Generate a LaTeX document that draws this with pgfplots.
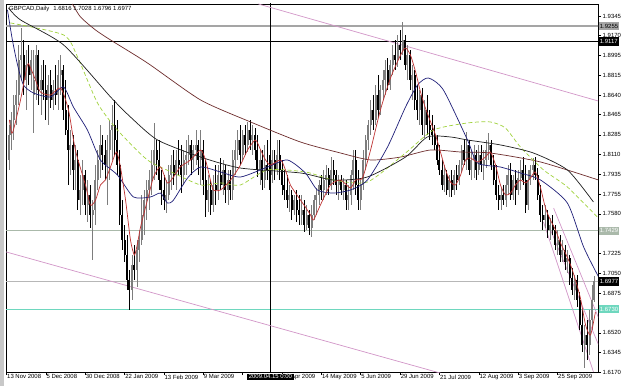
\documentclass[border=0pt]{standalone}
\usepackage{fontspec}
\setmainfont{Liberation Sans}
\usepackage{pgfplots}
\usepackage{pgfplotstable}
\pgfplotsset{compat=1.18}
\definecolor{upc}{RGB}{125,125,125}
\definecolor{dnc}{RGB}{0,0,0}
\definecolor{maR}{RGB}{190,50,50}
\definecolor{maB}{RGB}{30,30,120}
\definecolor{maK}{RGB}{30,30,30}
\definecolor{maG}{RGB}{160,210,60}
\definecolor{maM}{RGB}{110,45,45}
\definecolor{tl}{RGB}{210,150,200}
\definecolor{hg}{RGB}{165,165,165}
\definecolor{hgg}{RGB}{170,185,170}
\definecolor{aq}{RGB}{110,215,190}
\definecolor{win}{RGB}{200,200,200}

\pgfplotstableread{
i o h l c
0 1.8418 1.8596 1.7900 1.8061
1 1.8061 1.8373 1.7972 1.8284
2 1.8284 1.8489 1.8150 1.8418
3 1.8418 1.8641 1.8239 1.8551
4 1.8551 1.8774 1.8373 1.8641
5 1.8641 1.9087 1.8551 1.8953
6 1.8953 1.9238 1.8774 1.8997
7 1.8997 1.9131 1.8641 1.8774
8 1.8774 1.9042 1.8507 1.8908
9 1.8908 1.9087 1.8730 1.8819
10 1.8819 1.9042 1.8685 1.8953
11 1.8641 1.9042 1.8301 1.8774
12 1.8774 1.9087 1.8596 1.8997
13 1.8997 1.9042 1.8551 1.8685
14 1.8685 1.8908 1.8462 1.8774
15 1.8774 1.8953 1.8596 1.8685
16 1.8685 1.8908 1.8418 1.8596
17 1.8596 1.8819 1.8373 1.8730
18 1.8730 1.8864 1.8524 1.8596
19 1.8596 1.8774 1.8507 1.8685
20 1.8685 1.8908 1.8551 1.8641
21 1.8641 1.8953 1.8507 1.8819
22 1.8819 1.8997 1.8641 1.8864
23 1.8864 1.8908 1.8418 1.8507
24 1.8507 1.8774 1.8284 1.8328
25 1.8328 1.8551 1.7838 1.8150
26 1.8150 1.8328 1.7927 1.8195
27 1.8195 1.8284 1.7793 1.7972
28 1.7972 1.8195 1.7793 1.8061
29 1.8061 1.8150 1.7615 1.7704
30 1.7704 1.7927 1.7570 1.7793
31 1.7793 1.8061 1.7659 1.7927
32 1.7927 1.7972 1.7570 1.7659
33 1.7659 1.7882 1.7508 1.7749
34 1.7749 1.7838 1.7454 1.7570
35 1.7570 1.7704 1.7169 1.7615
36 1.7615 1.8016 1.7481 1.7882
37 1.7882 1.8150 1.7793 1.8061
38 1.8061 1.8373 1.7900 1.8195
39 1.8195 1.8284 1.7972 1.8105
40 1.8105 1.8239 1.7882 1.8016
41 1.8016 1.8284 1.7659 1.8150
42 1.8150 1.8418 1.7882 1.8328
43 1.8328 1.8551 1.8061 1.8373
44 1.8373 1.8596 1.8105 1.8239
45 1.8239 1.8418 1.7927 1.8016
46 1.8016 1.8150 1.7481 1.7570
47 1.7570 1.7704 1.7258 1.7347
48 1.7347 1.7481 1.7151 1.7213
49 1.7213 1.7392 1.6901 1.6990
50 1.6990 1.7080 1.6723 1.6901
51 1.6901 1.7213 1.6812 1.7124
52 1.7124 1.7303 1.6990 1.7080
53 1.7080 1.7347 1.6928 1.7258
54 1.7258 1.7436 1.7151 1.7347
55 1.7347 1.7749 1.7303 1.7570
56 1.7570 1.7793 1.7392 1.7704
57 1.7704 1.7882 1.7526 1.7793
58 1.7793 1.7972 1.7615 1.7882
59 1.7882 1.8150 1.7749 1.8016
60 1.8016 1.8391 1.7882 1.8150
61 1.8150 1.8239 1.7927 1.8061
62 1.8061 1.8239 1.7793 1.7882
63 1.7882 1.7972 1.7659 1.7793
64 1.7793 1.7927 1.7615 1.7704
65 1.7704 1.7882 1.7588 1.7749
66 1.7749 1.8016 1.7704 1.7927
67 1.7927 1.8105 1.7793 1.8016
68 1.8016 1.8150 1.7838 1.7927
69 1.7927 1.8150 1.7793 1.8061
70 1.8061 1.8239 1.7927 1.8016
71 1.8016 1.8195 1.7766 1.7927
72 1.7927 1.8150 1.7838 1.8061
73 1.8061 1.8239 1.7927 1.8105
74 1.8105 1.8284 1.8016 1.8195
75 1.8195 1.8239 1.7927 1.8061
76 1.8061 1.8195 1.7972 1.8150
77 1.8150 1.8328 1.8016 1.8195
78 1.8195 1.8239 1.7927 1.8061
79 1.8061 1.8328 1.7838 1.8150
80 1.8150 1.8239 1.7749 1.7882
81 1.7882 1.8061 1.7552 1.7704
82 1.7704 1.7927 1.7597 1.7793
83 1.7793 1.7882 1.7570 1.7659
84 1.7659 1.7927 1.7597 1.7838
85 1.7838 1.8016 1.7659 1.7793
86 1.7793 1.8016 1.7704 1.7927
87 1.7927 1.8078 1.7793 1.7838
88 1.7838 1.8061 1.7749 1.7972
89 1.7972 1.8016 1.7677 1.7793
90 1.7793 1.7972 1.7659 1.7882
91 1.7882 1.7972 1.7704 1.7793
92 1.7793 1.8150 1.7704 1.8061
93 1.8061 1.8239 1.7927 1.8150
94 1.8150 1.8328 1.8061 1.8239
95 1.8239 1.8373 1.8016 1.8105
96 1.8105 1.8328 1.8061 1.8284
97 1.8284 1.8373 1.8105 1.8195
98 1.8195 1.8400 1.8132 1.8328
99 1.8328 1.8418 1.8150 1.8239
100 1.8239 1.8373 1.8105 1.8284
101 1.8284 1.8346 1.8061 1.8150
102 1.8150 1.8284 1.7909 1.7972
103 1.7972 1.8150 1.7838 1.8061
104 1.8061 1.8150 1.7793 1.7882
105 1.7882 1.8195 1.7811 1.8016
106 1.8016 1.8239 1.7882 1.7972
107 1.7972 1.8105 1.7793 1.7927
108 1.7927 1.8150 1.7856 1.8061
109 1.8061 1.8150 1.7882 1.7972
110 1.7972 1.8239 1.7927 1.8105
111 1.8105 1.8239 1.7882 1.7972
112 1.7972 1.8061 1.7749 1.7838
113 1.7838 1.7972 1.7704 1.7793
114 1.7793 1.7927 1.7632 1.7704
115 1.7704 1.7838 1.7597 1.7749
116 1.7749 1.7793 1.7526 1.7615
117 1.7615 1.7749 1.7570 1.7704
118 1.7704 1.7793 1.7508 1.7615
119 1.7615 1.7749 1.7481 1.7570
120 1.7570 1.7749 1.7481 1.7615
121 1.7615 1.7704 1.7418 1.7481
122 1.7481 1.7659 1.7436 1.7570
123 1.7570 1.7615 1.7392 1.7454
124 1.7454 1.7659 1.7374 1.7570
125 1.7570 1.7749 1.7526 1.7704
126 1.7704 1.7811 1.7570 1.7749
127 1.7749 1.7882 1.7659 1.7838
128 1.7838 1.7927 1.7704 1.7793
129 1.7793 1.7972 1.7704 1.7882
130 1.7882 1.8016 1.7749 1.7927
131 1.7927 1.7989 1.7749 1.7838
132 1.7838 1.8087 1.7793 1.7972
133 1.7972 1.8061 1.7838 1.7927
134 1.7927 1.7972 1.7749 1.7838
135 1.7838 1.7927 1.7704 1.7882
136 1.7882 1.7927 1.7749 1.7793
137 1.7793 1.7900 1.7704 1.7838
138 1.7838 1.7882 1.7615 1.7704
139 1.7704 1.7838 1.7615 1.7749
140 1.7749 1.7972 1.7659 1.7927
141 1.7927 1.8150 1.7793 1.8061
142 1.8061 1.8150 1.7749 1.7838
143 1.7838 1.7972 1.7615 1.7704
144 1.7704 1.7882 1.7615 1.7838
145 1.7838 1.8150 1.7793 1.8061
146 1.8061 1.8284 1.7972 1.8239
147 1.8239 1.8418 1.8150 1.8373
148 1.8373 1.8596 1.8284 1.8507
149 1.8507 1.8641 1.8328 1.8418
150 1.8418 1.8730 1.8373 1.8641
151 1.8641 1.8819 1.8444 1.8507
152 1.8507 1.8730 1.8462 1.8685
153 1.8685 1.8864 1.8596 1.8774
154 1.8774 1.8953 1.8641 1.8864
155 1.8864 1.8970 1.8685 1.8730
156 1.8730 1.8953 1.8685 1.8908
157 1.8908 1.9087 1.8819 1.8997
158 1.8997 1.9131 1.8864 1.8953
159 1.8953 1.9176 1.8890 1.9087
160 1.9087 1.9220 1.8953 1.9042
161 1.9042 1.9292 1.8997 1.9131
162 1.9131 1.9176 1.8864 1.8908
163 1.8908 1.9087 1.8774 1.8997
164 1.8997 1.9042 1.8685 1.8774
165 1.8774 1.8908 1.8596 1.8819
166 1.8819 1.8864 1.8507 1.8596
167 1.8596 1.8730 1.8418 1.8507
168 1.8507 1.8685 1.8373 1.8641
169 1.8641 1.8703 1.8284 1.8373
170 1.8373 1.8596 1.8257 1.8507
171 1.8507 1.8641 1.8284 1.8373
172 1.8373 1.8507 1.8239 1.8328
173 1.8328 1.8462 1.8195 1.8284
174 1.8284 1.8373 1.8150 1.8195
175 1.8195 1.8284 1.8016 1.8061
176 1.8061 1.8195 1.7927 1.7972
177 1.7972 1.8061 1.7793 1.7838
178 1.7838 1.8016 1.7775 1.7927
179 1.7927 1.7972 1.7749 1.7793
180 1.7793 1.7927 1.7731 1.7882
181 1.7882 1.7972 1.7731 1.7793
182 1.7793 1.7972 1.7749 1.7927
183 1.7927 1.8016 1.7793 1.7882
184 1.7882 1.8061 1.7838 1.8016
185 1.8016 1.8195 1.7954 1.8150
186 1.8150 1.8239 1.8016 1.8061
187 1.8061 1.8310 1.7972 1.8195
188 1.8195 1.8239 1.7927 1.7972
189 1.7972 1.8150 1.7882 1.8061
190 1.8061 1.8195 1.7900 1.8105
191 1.8105 1.8150 1.7882 1.7972
192 1.7972 1.8195 1.7927 1.8105
193 1.8105 1.8195 1.7954 1.8016
194 1.8016 1.8150 1.7882 1.8061
195 1.8061 1.8239 1.7989 1.8150
196 1.8150 1.8301 1.8061 1.8195
197 1.8195 1.8239 1.7972 1.8016
198 1.8016 1.8105 1.7838 1.7882
199 1.7882 1.8016 1.7704 1.7749
200 1.7749 1.7838 1.7615 1.7704
201 1.7704 1.7811 1.7615 1.7749
202 1.7749 1.7838 1.7659 1.7704
203 1.7704 1.7927 1.7641 1.7838
204 1.7838 1.8016 1.7749 1.7927
205 1.7927 1.8034 1.7704 1.7749
206 1.7749 1.7927 1.7704 1.7882
207 1.7882 1.7972 1.7659 1.7793
208 1.7793 1.7972 1.7749 1.7900
209 1.7900 1.8061 1.7793 1.7972
210 1.7972 1.8087 1.7838 1.7882
211 1.7882 1.8016 1.7588 1.7659
212 1.7659 1.7972 1.7615 1.7882
213 1.7882 1.8016 1.7838 1.7972
214 1.7972 1.8078 1.7882 1.8016
215 1.8016 1.8087 1.7882 1.7927
216 1.7927 1.7989 1.7704 1.7749
217 1.7749 1.7838 1.7508 1.7570
218 1.7570 1.7659 1.7436 1.7526
219 1.7526 1.7659 1.7454 1.7570
220 1.7570 1.7615 1.7365 1.7436
221 1.7436 1.7543 1.7347 1.7481
222 1.7481 1.7570 1.7392 1.7436
223 1.7436 1.7481 1.7258 1.7303
224 1.7303 1.7436 1.7213 1.7347
225 1.7347 1.7392 1.7151 1.7213
226 1.7213 1.7347 1.7151 1.7258
227 1.7258 1.7303 1.7080 1.7151
228 1.7151 1.7258 1.7053 1.7186
229 1.7186 1.7213 1.6946 1.7008
230 1.7008 1.7097 1.6857 1.6901
231 1.6901 1.7035 1.6812 1.6990
232 1.6990 1.7035 1.6749 1.6812
233 1.6812 1.6883 1.6544 1.6589
234 1.6589 1.6723 1.6348 1.6411
235 1.6411 1.6589 1.6205 1.6500
236 1.6500 1.6634 1.6277 1.6411
237 1.6411 1.6723 1.6321 1.6634
238 1.6634 1.6946 1.6544 1.6812
239 1.6816 1.7028 1.6796 1.6977
}\ohlc

\begin{document}
\begin{tikzpicture}[x=1bp,y=1bp]
\path[use as bounding box] (-6,-14) rectangle (619,372);
\fill[white] (-6,-14) rectangle (619,372);
\fill[win] (-6,-14) rectangle (-2.5,372);
\begin{axis}[
  at={(0,0)}, anchor=south west, scale only axis,
  width=592bp, height=368bp,
  xmin=-0.2, xmax=240.45, ymin=1.6170, ymax=1.9452,
  axis line style={black, line width=0.6bp},
  xtick pos=bottom, ytick pos=right, yticklabel pos=right,
  tick align=outside, major tick length=3bp,
  tick style={black, line width=0.5bp},
  xtick={0,16,32,48,64,80,96,112,128,144,160,176,192,208,224},
  xticklabels={13 Nov 2008,5 Dec 2008,30 Dec 2008,22 Jan 2009,13 Feb 2009,9 Mar 2009,{},22 Apr 2009,14 May 2009,5 Jun 2009,29 Jun 2009,21 Jul 2009,12 Aug 2009,3 Sep 2009,25 Sep 2009},
  xticklabel style={anchor=north west, xshift=-0.5bp, yshift=1.5bp, inner sep=1bp, font=\fontsize{6}{7}\selectfont},
  ytick={1.6170,1.6345,1.6520,1.6700,1.6875,1.7050,1.7225,1.7405,1.7580,1.7755,1.7935,1.8110,1.8285,1.8465,1.8640,1.8815,1.8995,1.9170,1.9345},
  yticklabels={1.6170,1.6345,1.6520,{},1.6875,1.7050,1.7225,{},1.7580,1.7755,1.7935,1.8110,1.8285,1.8465,1.8640,1.8815,1.8995,1.9170,1.9345},
  yticklabel style={anchor=west, inner sep=1bp, xshift=0.5bp, font=\fontsize{6}{7}\selectfont},
]
% horizontal / vertical lines
\addplot[hg, line width=2bp, forget plot] coordinates {(-5,1.9255) (245,1.9255)};
\addplot[black, line width=0.8bp, forget plot] coordinates {(-5,1.9117) (245,1.9117)};
\addplot[hgg, line width=1bp, forget plot] coordinates {(-5,1.7429) (245,1.7429)};
\addplot[hg!80, line width=1bp, forget plot] coordinates {(-5,1.6977) (245,1.6977)};
\addplot[aq, line width=1.2bp, forget plot] coordinates {(-5,1.6730) (245,1.6730)};
\addplot[black, line width=0.8bp, forget plot] coordinates {(107.3,1.60) (107.3,1.96)};
% trend lines
\addplot[tl, line width=0.7bp, forget plot] coordinates {(102.4,1.9452) (241,1.8584)};
\addplot[tl, line width=0.7bp, forget plot] coordinates {(-1,1.7246) (180,1.6138)};
\addplot[tl, line width=0.7bp, forget plot] coordinates {(222.4,1.7632) (240.7,1.6651)};
\addplot[tl, line width=0.7bp, forget plot] coordinates {(220.3,1.7481) (240.7,1.6411)};
\addplot[tl, line width=0.7bp, forget plot] coordinates {(218.3,1.7508) (238.6,1.6170)};
% wicks
\addplot[draw=none, mark=none, forget plot, restrict y to domain=1.5:2.5,
  error bars/.cd, y dir=both, y explicit, error mark=none,
  error bar style={draw=upc, line width=0.75bp}]
  table[x=i, y expr={(\thisrow{c}>\thisrow{o})*(\thisrow{h}+\thisrow{l})/2},
        y error expr={(\thisrow{h}-\thisrow{l})/2}] {\ohlc};
\addplot[draw=none, mark=none, forget plot, restrict y to domain=1.5:2.5,
  error bars/.cd, y dir=both, y explicit, error mark=none,
  error bar style={draw=dnc, line width=0.75bp}]
  table[x=i, y expr={(1-(\thisrow{c}>\thisrow{o}))*(\thisrow{h}+\thisrow{l})/2},
        y error expr={(\thisrow{h}-\thisrow{l})/2}] {\ohlc};
% bodies
\addplot[draw=none, mark=none, forget plot, restrict y to domain=1.5:2.5,
  error bars/.cd, y dir=both, y explicit, error mark=none,
  error bar style={draw=upc, line width=2bp}]
  table[x=i, y expr={(\thisrow{c}>\thisrow{o})*(\thisrow{o}+\thisrow{c})/2},
        y error expr={abs(\thisrow{c}-\thisrow{o})/2+0.0002}] {\ohlc};
\addplot[draw=none, mark=none, forget plot, restrict y to domain=1.5:2.5,
  error bars/.cd, y dir=both, y explicit, error mark=none,
  error bar style={draw=dnc, line width=2bp}]
  table[x=i, y expr={(1-(\thisrow{c}>\thisrow{o}))*(\thisrow{o}+\thisrow{c})/2},
        y error expr={abs(\thisrow{c}-\thisrow{o})/2+0.0002}] {\ohlc};
% moving averages
\addplot[maM, line width=0.7bp, smooth, tension=0.4] coordinates {
(26.8,1.9452) (30.1,1.9336) (36.2,1.9220) (42.3,1.9131) (57.3,1.8926) (78.9,1.8596)
(99.2,1.8400) (119.5,1.8221) (135.8,1.8123) (148,1.8061) (160.2,1.8087) (172.4,1.8150)
(184.6,1.8132) (196.7,1.8123) (217.1,1.8043) (240.7,1.7882)};
\addplot[maG, line width=0.7bp, dash pattern=on 4bp off 2.5bp, smooth, tension=0.4] coordinates {
(1.6,1.9283) (23.2,1.9176) (28.9,1.8979) (37,1.8569) (45.1,1.8328) (57.3,1.8061) (67.9,1.7945)
(78.9,1.7838) (87,1.7856) (95.1,1.7838) (106.1,1.7972) (121.5,1.7954) (132.9,1.7882)
(146.7,1.7864) (162.2,1.8123) (173.6,1.8328) (187.4,1.8391) (196.7,1.8400) (202.8,1.8346)
(208.9,1.8177) (218.3,1.7972) (228,1.7820) (240.2,1.7552)};
\addplot[maK, line width=0.7bp, smooth, tension=0.4] coordinates {
(0.8,1.9417) (5.7,1.9310) (23.2,1.9087) (42.3,1.8623) (50.4,1.8444) (61.4,1.8239) (78.9,1.8087)
(95.1,1.7989) (119.5,1.7945) (132.9,1.7882) (146.7,1.7909) (162.2,1.8087) (171.1,1.8266)
(180.5,1.8266) (187.4,1.8239) (200.8,1.8195) (214.2,1.8123) (228,1.7972) (238.6,1.7686)};
\addplot[maB, line width=0.7bp, smooth, tension=0.4] coordinates {
(0.4,1.9399) (2.4,1.9131) (4.5,1.8908) (6.9,1.8730) (11,1.8658) (17.9,1.8623) (23.2,1.8712)
(27.2,1.8533) (32.9,1.8328) (38.2,1.8061) (45.1,1.7927) (51.6,1.7731) (58.5,1.7731)
(62.6,1.7766) (65.4,1.7677) (67.9,1.7704) (73.6,1.7900) (78.9,1.7998) (87,1.7954)
(95.1,1.7909) (106.1,1.7998) (114.2,1.8061) (121.5,1.7945) (126.4,1.7793) (132.9,1.7766)
(139.8,1.7793) (146.7,1.7882) (154.9,1.8177) (162.2,1.8533) (167.1,1.8730) (171.5,1.8792)
(177.6,1.8685) (187.4,1.8239) (191.5,1.8034) (200.8,1.7998) (208.9,1.7945) (217.1,1.7882)
(228,1.7677) (234.6,1.7285) (240.7,1.7017)};
\addplot[maR, line width=0.7bp, smooth, tension=0.4] coordinates {
(1.2,1.8418) (2.4,1.8301) (5.7,1.8596) (8.5,1.8908) (9.8,1.8881) (11.8,1.8774) (13.8,1.8667)
(17.9,1.8641) (22,1.8703) (25.2,1.8507) (28,1.8150) (32.1,1.7838) (34.1,1.7659) (36.2,1.7704)
(38.2,1.7838) (40.2,1.7882) (42.3,1.8000) (44.7,1.8132) (46.3,1.8000) (48.4,1.7704)
(50.4,1.7347) (52,1.7213) (53.3,1.7321) (54.5,1.7463) (57.3,1.7704) (59.8,1.7909)
(62.6,1.8000) (65.4,1.7856) (67.9,1.7909) (70.7,1.8000) (74.8,1.8061) (78.9,1.8150)
(80.9,1.8061) (82.9,1.7882) (84.1,1.7793) (87,1.7793) (91.1,1.7882) (95.1,1.8016)
(98,1.8150) (101.2,1.8239) (103.3,1.8150) (105.3,1.8061) (107.3,1.8016) (111.4,1.8061)
(113.4,1.7972) (115.4,1.7838) (119.5,1.7704) (121.5,1.7641) (123.6,1.7570) (124.8,1.7526)
(127.6,1.7659) (131.7,1.7838) (135.8,1.7882) (139.8,1.7811) (141.9,1.7882) (144.7,1.7900)
(148,1.8150) (152,1.8507) (156.1,1.8792) (160.2,1.8997) (162.2,1.9060) (164.2,1.8997)
(166.3,1.8846) (168.3,1.8667) (170.3,1.8524) (172.4,1.8400) (174.4,1.8284) (176.4,1.8132)
(178.5,1.7972) (180.5,1.7864) (182.5,1.7838) (184.6,1.7927) (186.6,1.8061) (188.6,1.8078)
(191.5,1.8043) (194.7,1.8087) (196.7,1.8132) (198.8,1.8016) (200.8,1.7838) (202.8,1.7749)
(204.9,1.7766) (206.9,1.7838) (208.9,1.7882) (211,1.7856) (213,1.7900) (215,1.7954)
(217.1,1.7811) (219.1,1.7632) (221.1,1.7526) (223.2,1.7436) (225.2,1.7321) (227.2,1.7231)
(229.3,1.7124) (231.3,1.6990) (233.3,1.6830) (235.4,1.6589) (237.4,1.6500) (239.4,1.6705)};
% anchors for labels
\coordinate (rA) at (axis cs:240.45,1.9255);
\coordinate (rB) at (axis cs:240.45,1.9117);
\coordinate (rC) at (axis cs:240.45,1.7429);
\coordinate (rD) at (axis cs:240.45,1.6977);
\coordinate (rE) at (axis cs:240.45,1.6730);
\coordinate (cx) at (axis cs:107.3,1.6170);
\end{axis}
\tikzset{lab/.style={anchor=west, inner xsep=1.2bp, inner ysep=0.6bp, minimum height=8.5bp, font=\fontsize{6}{7}\selectfont}}
\node[lab, fill=hg, text=black] at ([xshift=0.5bp]rA) {1.9255};
\node[lab, fill=black, text=white] at ([xshift=0.5bp]rB) {1.9117};
\node[lab, fill=hgg, text=white] at ([xshift=0.5bp]rC) {1.7429};
\node[lab, fill=black, text=white] at ([xshift=0.5bp]rD) {1.6977};
\node[lab, fill=aq, text=white] at ([xshift=0.5bp]rE) {1.6730};
\node[anchor=north, fill=black, text=white, inner xsep=1.5bp, inner ysep=1bp, font=\fontsize{6}{7}\selectfont] at ([yshift=-1.5bp]cx) {2009.04.15 0:00};
\node[anchor=west, inner sep=0pt, font=\fontsize{6}{7}\selectfont] at (3,363) {GBPCAD,Daily\hspace{4bp}1.6816 1.7028 1.6796 1.6977};
\end{tikzpicture}
\end{document}
